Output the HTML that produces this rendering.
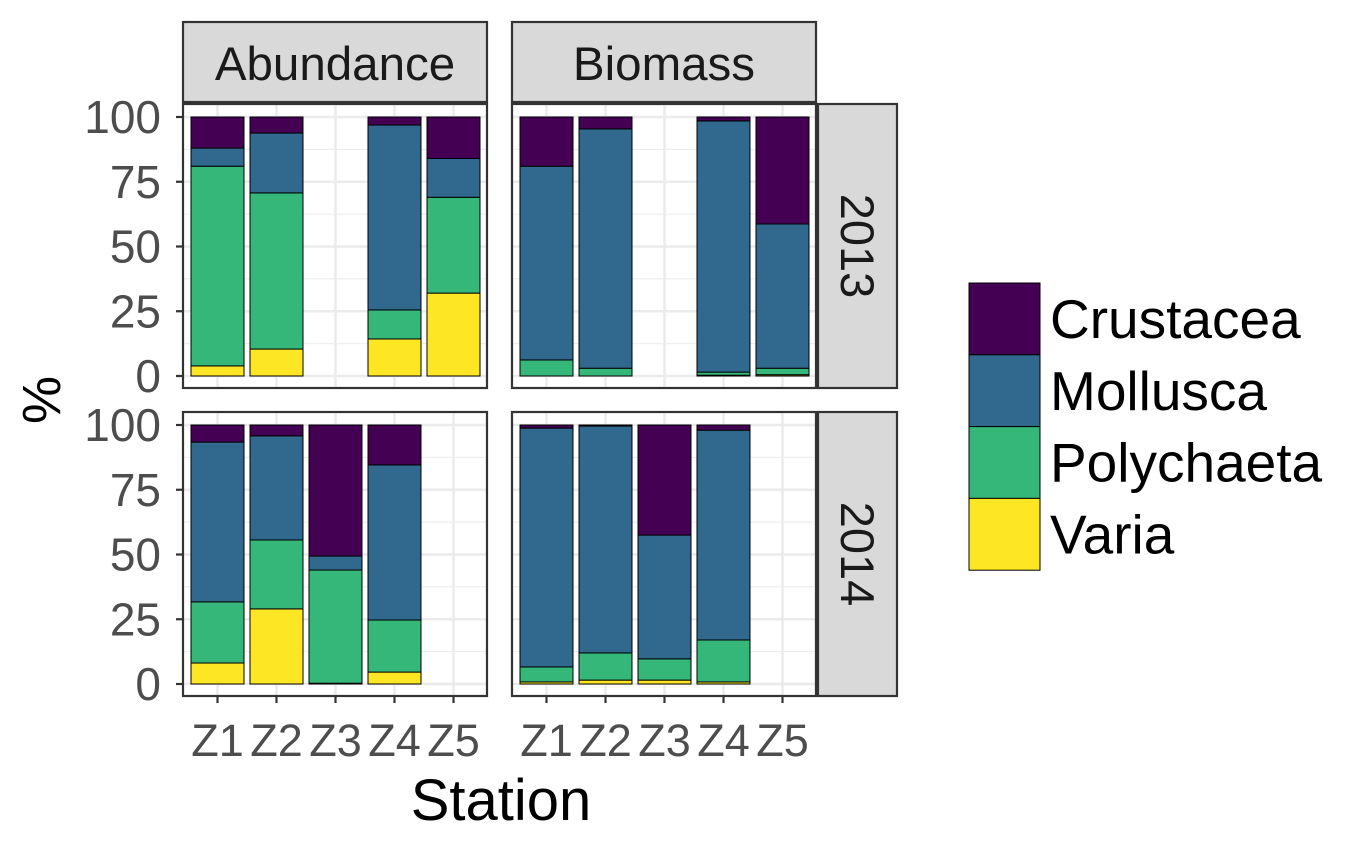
<!DOCTYPE html>
<html><head><meta charset="utf-8"><style>
html,body{margin:0;padding:0;background:#fff;}
svg text{font-family:"Liberation Sans",sans-serif;}
</style></head><body>
<svg id="chart" width="1368" height="843" xmlns="http://www.w3.org/2000/svg"></svg>
<script>
const stations = ["Z1","Z2","Z3","Z4","Z5"];
const groups = ["Varia","Polychaeta","Mollusca","Crustacea"];
const legendOrder = ["Crustacea","Mollusca","Polychaeta","Varia"];
const colors = {Crustacea:"#440154",Mollusca:"#31688e",Polychaeta:"#35b779",Varia:"#fde725"};
const yTicks = [0,25,50,75,100];
const yTickLabels = ["0","25","50","75","100"];
// values per station: [Varia, Polychaeta, Mollusca, Crustacea] in %
const abund2013 = [[3.9,77.1,7,12],[10.4,60.3,23.1,6.2],null,[14.3,11.2,71.4,3.1],[32,37,15,16]];
const biom2013 = [[0,6.2,74.8,19],[0,3,92.4,4.6],null,[0.3,1.2,97,1.5],[0.5,2.5,55.7,41.3]];
const abund2014 = [[8.1,23.6,61.7,6.6],[29,26.6,40.2,4.2],[0.3,43.7,5.4,50.6],[4.6,20.1,59.9,15.4],null];
const biom2014 = [[0.8,5.8,92.2,1.2],[1.5,10.5,87.6,0.4],[1.5,8.2,47.8,42.5],[0.8,16.2,81,2],null];
const panelData = [[abund2013,biom2013],[abund2014,biom2014]];
const colTitles = ["Abundance","Biomass"];
const rowTitles = ["2013","2014"];

const NS="http://www.w3.org/2000/svg";
const svg=document.getElementById('chart');
function mk(tag,attrs,parent){const e=document.createElementNS(NS,tag);for(const k in attrs)e.setAttribute(k,attrs[k]);(parent||svg).appendChild(e);return e;}

const colX=[183,512], pw=304;
const rowY=[104,412], ph=284;
function yScale(row,v){const y0=rowY[row]+272, y100=rowY[row]+13;return y0-(v/100)*(y0-y100);}
function xScale(col,i){return colX[col]+34.5+i*59;}
const barW=53;

for(let r=0;r<2;r++){for(let c=0;c<2;c++){
  const g=mk('g',{});
  
  
  mk('rect',{x:colX[c],y:rowY[r],width:pw,height:ph,fill:'#fff'},g);
  for(let k=0;k<4;k++){const v=12.5+25*k;const y=yScale(r,v);mk('line',{x1:colX[c],x2:colX[c]+pw,y1:y,y2:y,stroke:'#ebebeb','stroke-width':1.1},g);}
  for(const v of yTicks){const y=yScale(r,v);mk('line',{x1:colX[c],x2:colX[c]+pw,y1:y,y2:y,stroke:'#ebebeb','stroke-width':2.5},g);}
  for(let i=0;i<stations.length;i++){const x=xScale(c,i);mk('line',{x1:x,x2:x,y1:rowY[r],y2:rowY[r]+ph,stroke:'#ebebeb','stroke-width':2.5},g);}
  const data=panelData[r][c];
  data.forEach((vals,i)=>{ if(!vals)return; let cum=0;
    vals.forEach((v,j)=>{ const y1=yScale(r,cum+v), y0=yScale(r,cum); cum+=v;
      const b=mk('rect',{x:xScale(c,i)-barW/2,y:y1,width:barW,height:Math.max(0,y0-y1),fill:colors[groups[j]],stroke:'#000','stroke-width':1},g);
      
      
    });
  });
  mk('rect',{x:colX[c],y:rowY[r],width:pw,height:ph,fill:'none',stroke:'#333','stroke-width':2.2},g);
}}
for(let r=0;r<2;r++){yTicks.forEach((v,k)=>{const y=yScale(r,v);
  mk('line',{x1:176,x2:183,y1:y,y2:y,stroke:'#333','stroke-width':2.2});
  const t=mk('text',{x:161,y:y+16,'text-anchor':'end','font-size':46,fill:'#4d4d4d'});t.textContent=yTickLabels[k];
  
  
});}
for(let c=0;c<2;c++){stations.forEach((s,i)=>{const x=xScale(c,i);
  mk('line',{x1:x,x2:x,y1:696,y2:703,stroke:'#333','stroke-width':2.2});
  const t=mk('text',{x:x,y:756,'text-anchor':'middle','font-size':45,fill:'#4d4d4d'});t.textContent=s;
  
  
});}
for(let c=0;c<2;c++){mk('rect',{x:colX[c],y:22,width:pw,height:80,fill:'#d9d9d9',stroke:'#333','stroke-width':2.2});
  const t=mk('text',{x:colX[c]+pw/2,y:80,'text-anchor':'middle','font-size':47.5,fill:'#1a1a1a'});t.textContent=colTitles[c];
  
  }
for(let r=0;r<2;r++){mk('rect',{x:818,y:rowY[r],width:79,height:ph,fill:'#d9d9d9',stroke:'#333','stroke-width':2.2});
  const cx=857,cy=rowY[r]+ph/2;
  const t=mk('text',{x:cx,y:cy,'text-anchor':'middle','font-size':47,fill:'#1a1a1a',transform:`rotate(90 ${cx} ${cy}) translate(0 16)`});t.textContent=rowTitles[r];
  
  }
let t=mk('text',{x:501,y:820,'text-anchor':'middle','font-size':58,fill:'#000'});t.textContent='Station';


t=mk('text',{x:0,y:0,'text-anchor':'middle','font-size':54,fill:'#000',transform:'translate(60 400) rotate(-90)'});t.textContent='%';


legendOrder.forEach((name,k)=>{const y=283+k*71.8;
  const lg=mk('g',{});
  
  
  mk('rect',{x:969,y:y,width:71,height:71.8,fill:colors[name],stroke:'#000','stroke-width':1},lg);
  const tt=mk('text',{x:1050,y:y+55,'font-size':55,fill:'#000'},lg);tt.textContent=name;
});
</script>
</body></html>
